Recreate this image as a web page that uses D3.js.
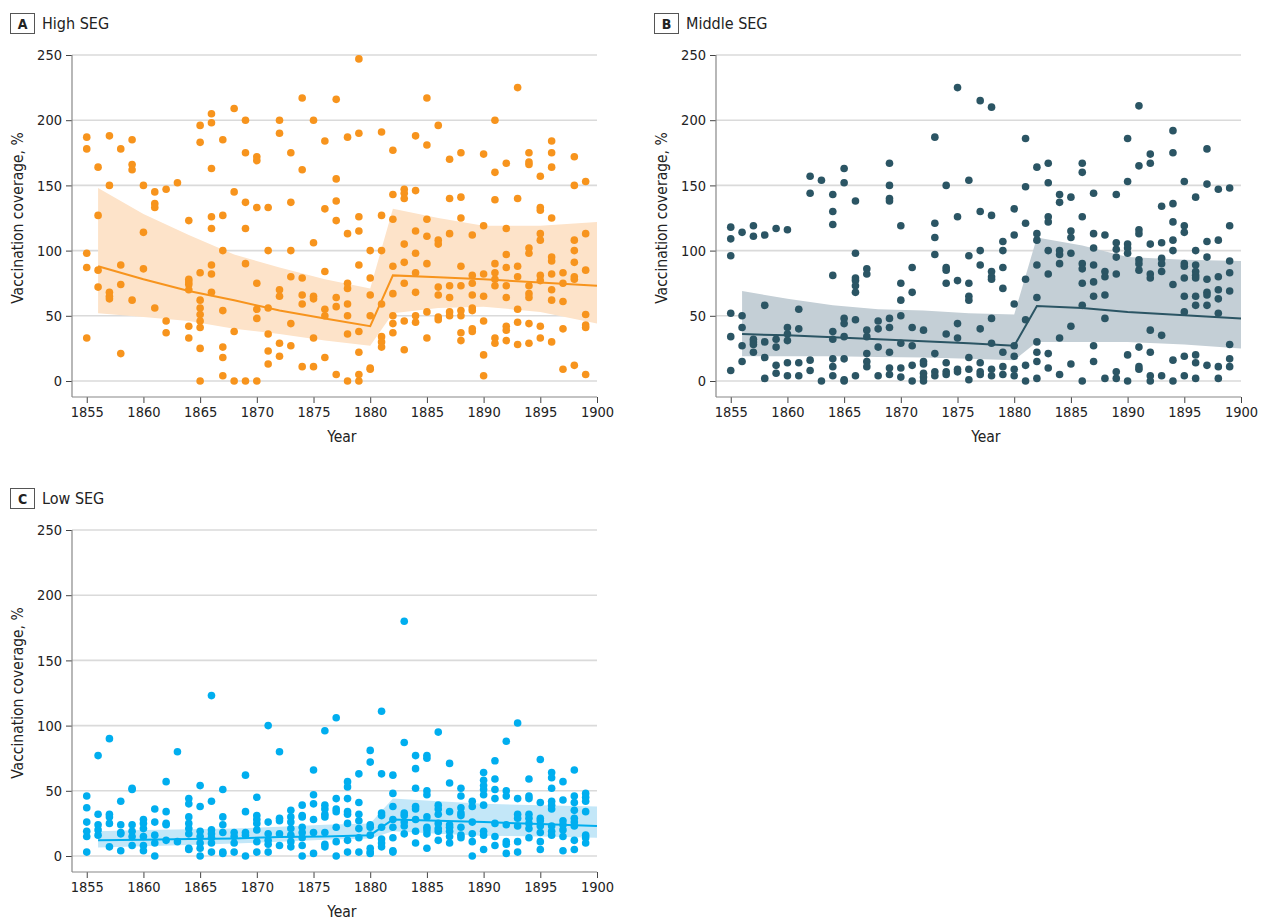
<!DOCTYPE html>
<html>
<head>
<meta charset="utf-8">
<script src="https://cdn.jsdelivr.net/npm/d3@7"></script>
<style>
  body { margin: 0; background: #fff; }
  svg text { font-family: "Liberation Sans Narrow", "DejaVu Sans Condensed", "Roboto Condensed", Roboto, sans-serif; fill: #222; }
</style>
</head>
<body>
<div id="chart"></div>
<script>
// years with observations
const years = [1855, 1856, 1857, 1858, 1859, 1860, 1861, 1862, 1863, 1864,
  1865, 1866, 1867, 1868, 1869, 1870, 1871, 1872, 1873, 1874,
  1875, 1876, 1877, 1878, 1879, 1880, 1881, 1882, 1883, 1884,
  1885, 1886, 1887, 1888, 1889, 1890, 1891, 1892, 1893, 1894,
  1895, 1896, 1897, 1898, 1899];

const xTicks = [1855, 1860, 1865, 1870, 1875, 1880, 1885, 1890, 1895, 1900];
const yTicks = [0, 50, 100, 150, 200, 250];

// vaccination coverage per year, one list per year (same order as years)
const highValues = [
  [187, 178, 98, 87, 33], [164, 127, 85, 72], [188, 150, 68, 65, 63], [178, 89, 74, 21],
  [185, 166, 162, 62], [150, 114, 86], [145, 136, 133, 56], [147, 46, 37], [152],
  [123, 78, 76, 74, 70, 42, 33], [196, 183, 83, 62, 56, 51, 46, 41, 25, 0],
  [205, 198, 163, 126, 117, 89, 82, 68], [185, 127, 100, 54, 26, 18, 4], [209, 145, 38, 0],
  [200, 175, 137, 117, 90, 0], [172, 169, 133, 75, 55, 48, 0], [133, 100, 56, 36, 23, 13],
  [200, 190, 70, 65, 29, 19], [175, 137, 100, 80, 44, 27], [217, 162, 79, 66, 59, 11],
  [200, 106, 65, 63, 33, 11], [184, 132, 84, 55, 50, 18], [216, 155, 138, 123, 64, 57, 5],
  [187, 113, 75, 71, 59, 50, 36, 0], [247, 190, 126, 115, 89, 38, 22, 5, 0],
  [100, 79, 66, 50, 10, 9], [191, 127, 100, 59, 34, 30, 26], [177, 143, 124, 88, 67, 50, 44, 37],
  [147, 144, 140, 105, 91, 75, 46, 24], [188, 146, 115, 98, 83, 68, 50, 45],
  [217, 181, 124, 111, 90, 53, 33], [196, 108, 105, 72, 66, 49, 47], [170, 140, 113, 73, 64, 53, 50],
  [175, 141, 125, 88, 73, 54, 50, 37, 31], [112, 81, 75, 66, 56, 54, 40, 38],
  [174, 119, 82, 65, 46, 20, 4], [200, 160, 139, 90, 83, 78, 73, 33, 29],
  [167, 117, 97, 87, 73, 64, 42, 39, 31], [225, 140, 88, 80, 55, 45, 28],
  [175, 168, 166, 102, 98, 73, 67, 64, 44, 29], [157, 133, 131, 113, 108, 81, 77, 42, 33],
  [184, 175, 164, 125, 95, 92, 82, 70, 62, 30], [83, 75, 61, 40, 9],
  [172, 150, 108, 100, 91, 80, 78, 12], [153, 113, 85, 51, 43, 41, 5]
];

const middleValues = [
  [118, 109, 96, 52, 34, 8], [114, 50, 41, 27, 15], [119, 111, 32, 30, 28, 22], [112, 58, 30, 18, 2],
  [117, 32, 26, 12, 6], [116, 41, 36, 31, 14, 4], [55, 40, 14, 4], [157, 144, 16, 8], [154, 0],
  [143, 130, 120, 81, 38, 32, 17, 11, 4], [163, 152, 48, 44, 34, 17, 1, 0],
  [138, 98, 79, 77, 73, 68, 47, 4], [86, 82, 39, 34, 21, 15, 11], [46, 40, 26, 4],
  [167, 150, 140, 138, 48, 41, 22, 10, 5], [119, 75, 62, 50, 29, 10, 3], [87, 68, 41, 27, 12, 0],
  [39, 15, 13, 6, 3, 0], [187, 121, 110, 97, 21, 7, 4], [150, 87, 85, 75, 36, 14, 7, 5],
  [225, 126, 77, 44, 33, 9, 7], [154, 96, 75, 65, 62, 18, 9, 1], [215, 130, 100, 89, 40, 14, 7, 5],
  [210, 127, 84, 80, 78, 48, 29, 9, 4], [107, 100, 87, 71, 22, 11, 5], [132, 112, 59, 27, 19, 9, 4],
  [186, 149, 121, 78, 47, 12, 0], [164, 113, 108, 89, 64, 30, 22, 15, 2],
  [167, 152, 126, 122, 100, 82, 21, 10], [143, 137, 100, 97, 90, 33, 5], [141, 115, 110, 98, 42, 13],
  [167, 160, 126, 90, 86, 75, 58, 0], [144, 113, 102, 89, 76, 65, 27, 15], [112, 84, 80, 66, 48, 2],
  [143, 106, 101, 95, 82, 7, 2], [186, 153, 105, 102, 98, 20, 0],
  [211, 165, 116, 113, 93, 90, 85, 26, 11, 9], [174, 167, 105, 82, 79, 39, 22, 4, 0],
  [134, 106, 94, 90, 84, 35, 4], [192, 175, 136, 122, 108, 100, 74, 16, 0],
  [153, 119, 114, 90, 88, 79, 65, 53, 19, 4], [141, 100, 89, 84, 81, 79, 65, 58, 20, 14, 2],
  [178, 151, 107, 95, 78, 68, 66, 58, 12], [147, 108, 80, 70, 63, 52, 11, 2],
  [148, 119, 92, 83, 69, 28, 17, 11]
];

const lowValues = [
  [46, 37, 26, 19, 15, 3], [77, 32, 24, 20, 16], [90, 32, 30, 25, 7], [42, 24, 18, 17, 4],
  [52, 51, 24, 19, 15, 8], [28, 25, 21, 15, 8, 4], [36, 26, 16, 10, 0], [57, 34, 25, 24, 12], [80, 11],
  [44, 40, 30, 25, 21, 17, 6, 5], [54, 38, 19, 15, 10, 6, 0], [123, 42, 20, 17, 14, 10, 3],
  [51, 30, 24, 18, 3, 2], [18, 15, 10, 3], [62, 34, 18, 16, 0], [45, 31, 28, 25, 20, 11, 3],
  [100, 26, 17, 12, 9, 3], [80, 29, 27, 17, 8], [35, 30, 26, 21, 16, 11, 7],
  [39, 31, 30, 22, 18, 14, 8, 0], [66, 47, 40, 28, 18, 2], [96, 39, 36, 32, 30, 18, 9, 7],
  [106, 44, 36, 34, 22, 11, 0], [57, 53, 44, 34, 32, 25, 12, 3], [63, 41, 32, 27, 21, 14, 3],
  [81, 72, 24, 22, 16, 6, 3, 2], [111, 63, 33, 31, 22, 13, 10, 7], [62, 48, 38, 28, 22, 14, 4, 3],
  [180, 87, 33, 31, 26, 23, 17], [77, 67, 52, 38, 36, 28, 19, 10],
  [77, 75, 50, 47, 30, 22, 20, 17, 6], [95, 39, 36, 32, 25, 21, 19, 12],
  [71, 56, 34, 24, 22, 19, 15, 10], [52, 46, 37, 33, 31, 22, 16, 14], [42, 38, 26, 17, 11, 0],
  [64, 58, 54, 51, 47, 39, 19, 16, 5], [73, 59, 51, 44, 25, 15, 8], [88, 50, 46, 24, 11, 9, 2],
  [102, 44, 32, 29, 23, 11, 3], [59, 46, 44, 32, 29, 25, 21, 14], [74, 41, 29, 27, 23, 18, 11, 5],
  [64, 60, 52, 42, 39, 36, 23, 19, 16], [57, 43, 27, 24, 20, 15, 4],
  [66, 46, 41, 35, 29, 26, 23, 12, 5], [48, 45, 42, 34, 16, 14, 10]
];

// fitted segmented trend with 95% CI
const fitYears = [1856, 1860, 1864, 1868, 1872, 1876, 1880, 1882, 1886, 1890, 1895, 1900];
const highFit   = [88, 78, 69, 62, 54, 48, 42, 81, 79.5, 78, 75.5, 73];
const highLower = [52, 49, 46, 40, 36, 31, 27, 52, 56, 57, 53, 44];
const highUpper = [148, 128, 112, 97, 87, 78, 71, 132, 125, 119, 119, 122];
const middleFit   = [36, 35, 33.5, 32, 30.5, 29, 27, 57.5, 56, 53, 50.5, 48];
const middleLower = [19, 19, 19, 18.5, 18, 17, 16, 30, 30, 30, 28, 25];
const middleUpper = [69, 63, 58, 55, 54, 52, 51, 110, 104, 95, 93, 92];
const lowFit   = [12, 12.5, 13, 13.5, 14.5, 15, 16, 28, 27, 26, 24.5, 23];
const lowLower = [6.5, 7.5, 8.5, 9.5, 11, 12.5, 13.5, 19, 17, 15.5, 15, 14];
const lowUpper = [19, 20, 20.5, 21, 22.5, 24, 25, 44, 42, 40, 39, 38];

const svg = d3.select('#chart').append('svg')
  .attr('width', 1262)
  .attr('height', 922);

function drawPanel(p) {
  const plotW = 525;
  const x = d3.scaleLinear().domain([1853.7, 1900]).range([p.left, p.left + plotW]);
  const y = d3.scaleLinear().domain([0, 250]).range([p.top + 326, p.top]);
  const bottom = p.top + 342;
  const g = svg.append('g');

  // panel label
  g.append('rect')
    .attr('x', p.left - 61.5).attr('y', p.top - 41.5)
    .attr('width', 24).attr('height', 20)
    .attr('fill', '#fff').attr('stroke', '#555').attr('stroke-width', 1);
  g.append('text')
    .attr('x', p.left - 49.5).attr('y', p.top - 26)
    .attr('text-anchor', 'middle')
    .style('font-size', '14px').style('font-weight', 'bold')
    .text(p.letter);
  g.append('text')
    .attr('x', p.left - 30).attr('y', p.top - 26)
    .style('font-size', '16px')
    .text(p.title);

  // gridlines
  g.append('g').selectAll('line')
    .data(yTicks)
    .join('line')
    .attr('x1', p.left).attr('x2', p.left + plotW)
    .attr('y1', d => y(d)).attr('y2', d => y(d))
    .attr('stroke', '#dadada').attr('stroke-width', 1.6);

  // axes
  const yAxis = g.append('g')
    .attr('transform', `translate(${p.left},0)`)
    .call(d3.axisLeft(y).tickValues(yTicks).tickSize(6).tickPadding(4).tickSizeOuter(0));
  yAxis.select('.domain').remove();
  yAxis.append('line')
    .attr('x1', 0).attr('x2', 0).attr('y1', p.top).attr('y2', bottom)
    .attr('stroke', '#888').attr('stroke-width', 1.2);

  const xAxis = g.append('g')
    .attr('transform', `translate(0,${bottom})`)
    .call(d3.axisBottom(x).tickValues(xTicks).tickFormat(d3.format('d')).tickSize(6).tickPadding(4).tickSizeOuter(0));
  xAxis.select('.domain').remove();
  xAxis.append('line')
    .attr('x1', p.left).attr('x2', p.left + plotW).attr('y1', 0).attr('y2', 0)
    .attr('stroke', '#888').attr('stroke-width', 1.2);

  [yAxis, xAxis].forEach(a => {
    a.selectAll('.tick line').attr('stroke', '#444');
    a.selectAll('.tick text').style('font-size', '14.5px').attr('fill', '#222');
  });

  // axis titles
  g.append('text')
    .attr('x', (x(1855) + x(1900)) / 2).attr('y', bottom + 45)
    .attr('text-anchor', 'middle')
    .style('font-size', '15.5px')
    .text('Year');
  g.append('text')
    .attr('transform', `translate(${p.left - 49},${p.top + 163}) rotate(-90)`)
    .attr('text-anchor', 'middle')
    .style('font-size', '15.5px')
    .text('Vaccination coverage, %');

  // CI band
  const band = fitYears.map((yr, i) => ({ yr, lo: p.lower[i], hi: p.upper[i], fit: p.fit[i] }));
  g.append('path')
    .datum(band)
    .attr('fill', p.band)
    .attr('d', d3.area().x(d => x(d.yr)).y0(d => y(d.lo)).y1(d => y(d.hi)));

  g.append('path')
    .datum(band)
    .attr('fill', 'none')
    .attr('stroke', p.color)
    .attr('stroke-width', 2)
    .attr('d', d3.line().x(d => x(d.yr)).y(d => y(d.fit)));

  // points
  const pts = [];
  years.forEach((yr, i) => p.values[i].forEach(v => pts.push({ yr, v })));
  g.append('g').selectAll('circle')
    .data(pts)
    .join('circle')
    .attr('cx', d => x(d.yr))
    .attr('cy', d => y(d.v))
    .attr('r', 3.8)
    .attr('fill', p.color);
}

drawPanel({ letter: 'A', title: 'High SEG', left: 72, top: 55, values: highValues,
  fit: highFit, lower: highLower, upper: highUpper, color: '#f7941d', band: '#fde3c9' });
drawPanel({ letter: 'B', title: 'Middle SEG', left: 716, top: 55, values: middleValues,
  fit: middleFit, lower: middleLower, upper: middleUpper, color: '#2b5564', band: '#c4cfd6' });
drawPanel({ letter: 'C', title: 'Low SEG', left: 72, top: 530, values: lowValues,
  fit: lowFit, lower: lowLower, upper: lowUpper, color: '#00aeef', band: '#c3e7f8' });
</script>
</body>
</html>
